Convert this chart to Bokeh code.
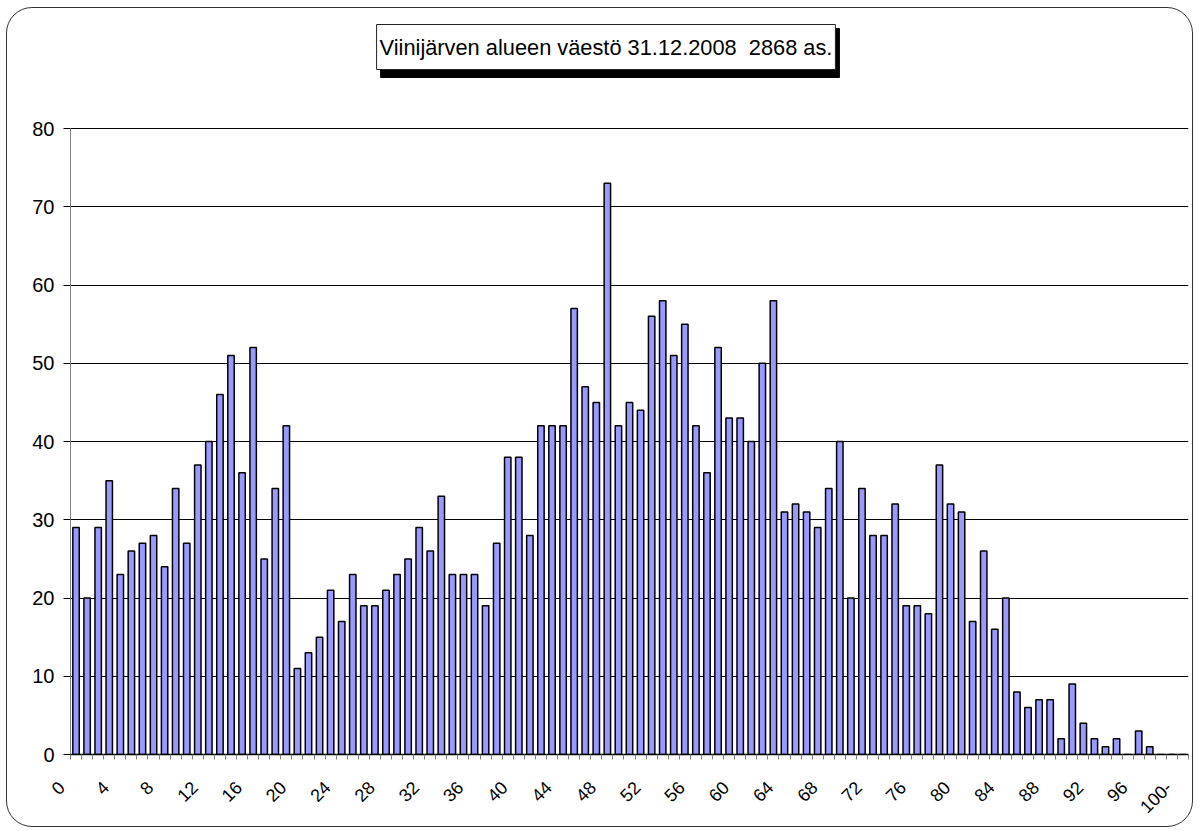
from bokeh.plotting import figure
from bokeh.models import ColumnDataSource, Range1d, FixedTicker, Label
from bokeh.embed import file_html
from bokeh.resources import INLINE

# ---- data ----
ages = [str(i) for i in range(100)] + ["100-"]
population = [
    29, 20, 29, 35, 23, 26, 27, 28, 24, 34,
    27, 37, 40, 46, 51, 36, 52, 25, 34, 42,
    11, 13, 15, 21, 17, 23, 19, 19, 21, 23,
    25, 29, 26, 33, 23, 23, 23, 19, 27, 38,
    38, 28, 42, 42, 42, 57, 47, 45, 73, 42,
    45, 44, 56, 58, 51, 55, 42, 36, 52, 43,
    43, 40, 50, 58, 31, 32, 31, 29, 34, 40,
    20, 34, 28, 28, 32, 19, 19, 18, 37, 32,
    31, 17, 26, 16, 20, 8, 6, 7, 7, 2,
    9, 4, 2, 1, 2, 0, 3, 1, 0, 0, 0,
]
y_ticks = [0, 10, 20, 30, 40, 50, 60, 70, 80]
label_step = 4
title_text = "Viinijärven alueen väestö 31.12.2008\u00a0 2868 as."

FONT = "Liberation Sans"

idx = list(range(len(ages)))
source = ColumnDataSource(dict(x=idx, age=ages, pop=population))
label_ticks = [i for i in idx if i % label_step == 0]

# frame runs from the canvas top down to the x axis; 80 sits 626 px above 0
px_per_unit = 626 / 80
y_top = 746 / px_per_unit

p = figure(width=1187, height=820, output_backend="svg", toolbar_location=None,
           title=None,
           x_range=Range1d(-0.5, len(ages) - 0.5), y_range=Range1d(0, y_top),
           min_border_left=63, min_border_right=6, min_border_top=0,
           min_border_bottom=74)
p.styles = {"border": "1px solid #333333", "border-radius": "26px",
            "margin-left": "6px", "margin-top": "7px"}
p.border_fill_color = None
p.background_fill_color = None
p.outline_line_color = None

p.vbar(x="x", top="pop", width=0.58, source=source,
       fill_color="#9999FF", line_color="black", line_width=1.5)

# y axis
p.yaxis.ticker = FixedTicker(ticks=y_ticks)
p.yaxis.bounds = (0, 80)
p.yaxis.axis_line_color = "#808080"
p.yaxis.major_tick_out = 7
p.yaxis.major_tick_in = 0
p.yaxis.minor_tick_line_color = None
p.yaxis.major_label_standoff = 9
p.yaxis.major_label_text_font = FONT
p.yaxis.major_label_text_font_size = "20px"
p.yaxis.major_label_text_color = "black"
p.ygrid.ticker = FixedTicker(ticks=y_ticks)
p.ygrid.grid_line_color = "black"
p.ygrid.grid_line_width = 1
p.xgrid.grid_line_color = None

# x axis: tick marks between categories, labels every 4th category.
# trailing no-break spaces slide each rotated label down-left so that
# its end sits left of the category centre, as in the original.
pad = "\u00a0" * 4
boundaries = [i - 0.5 for i in idx] + [idx[-1] + 0.5]
p.xaxis.ticker = FixedTicker(ticks=label_ticks, minor_ticks=boundaries)
p.xaxis.major_label_overrides = {i: ages[i] + pad for i in label_ticks}
p.xaxis.major_tick_out = 0
p.xaxis.major_tick_in = 0
p.xaxis.minor_tick_out = 5
p.xaxis.minor_tick_in = 0
p.xaxis.minor_tick_line_color = "#808080"
p.xaxis.axis_line_color = "black"
p.xaxis.axis_line_width = 1.5
p.xaxis.major_label_orientation = 0.785398
p.xaxis.major_label_standoff = 11
p.xaxis.major_label_text_font = FONT
p.xaxis.major_label_text_font_size = "18px"
p.xaxis.major_label_text_color = "black"

# title box with shadow (screen units from the frame's bottom-left corner)
shadow = Label(x=539.5, y=701.5, x_units="screen", y_units="screen", text=title_text,
               text_align="center", text_baseline="middle", text_font=FONT,
               text_font_size="21.8px", text_color="black",
               background_fill_color="black", border_line_color="black",
               padding=(3, 12))
box = Label(x=535.5, y=707.5, x_units="screen", y_units="screen", text=title_text,
            text_align="center", text_baseline="middle", text_font=FONT,
            text_font_size="21.8px", text_color="black",
            background_fill_color="white", border_line_color="#222222",
            border_line_width=1, padding=(3, 10))
p.add_layout(shadow)
p.add_layout(box)

open("out.html", "w").write(file_html(p, INLINE))
